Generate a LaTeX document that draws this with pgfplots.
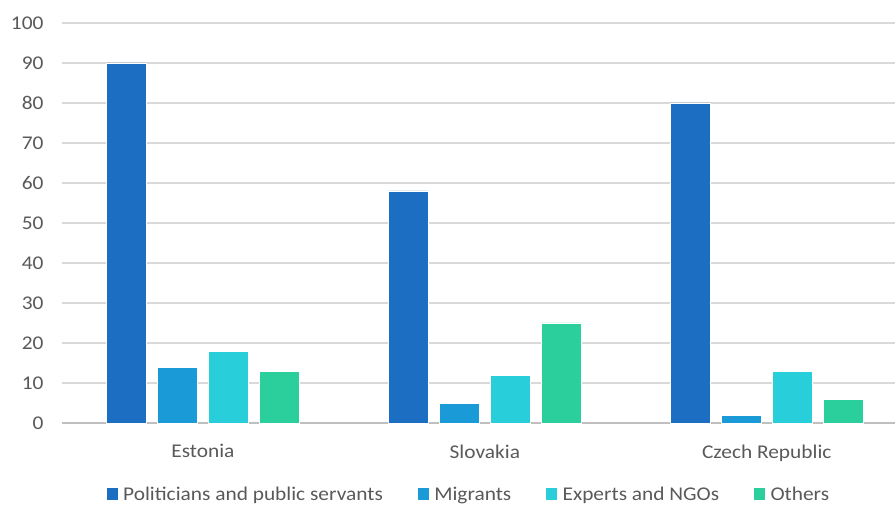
\documentclass[border=0pt]{standalone}
\usepackage{pgfplots}
\pgfplotsset{compat=1.18}
\usepackage{fontspec}
\setmainfont{Carlito}[FakeStretch=1.1]
\definecolor{c1}{RGB}{28,110,194}
\definecolor{c2}{RGB}{26,155,215}
\definecolor{c3}{RGB}{40,207,218}
\definecolor{c4}{RGB}{43,207,156}
\definecolor{txt}{RGB}{89,89,89}
\definecolor{gridc}{RGB}{217,217,217}
\definecolor{zeroc}{RGB}{191,191,191}
\begin{document}
\begin{tikzpicture}
\pgfplotsset{mylegend/.style={legend image code/.code={\fill[##1] (0bp,-6bp) rectangle (12bp,7bp);}}}
\begin{axis}[
  at={(0bp,0bp)}, anchor=south west,
  scale only axis, width=833bp, height=400bp,
  ymin=0, ymax=100, ytick={0,10,...,100},
  xmin=-0.5, xmax=2.455,
  xtick={0,1,2}, xticklabels={Estonia,Slovakia,Czech Republic},
  ybar=11bp, bar width=40bp,
  axis line style={draw=none},
  major tick length=0pt,
  ymajorgrids, grid style={draw=gridc, line width=1.5bp},
  extra y ticks={0}, extra y tick labels={},
  extra y tick style={grid style={draw=zeroc, line width=1.5bp}},
  tick label style={font=\fontsize{19.5}{21}\selectfont, text=txt},
  /pgf/number format/assume math mode=true,
  yticklabel style={xshift=-15bp},
  xticklabel style={yshift=-18bp},
  legend style={at={(0.4874,-0.179)}, anchor=center, draw=none, fill=none,
    legend columns=4, font=\fontsize{19.5}{21}\selectfont, text=txt,
    /tikz/every even column/.append style={column sep=33bp},
    /tikz/every odd column/.append style={column sep=4bp},
    inner sep=0pt, nodes={inner sep=1pt}},
]
\addplot[fill=c1, draw=white, line width=0.3bp, mylegend] coordinates {(0,90) (1,58) (2,80)};
\addplot[fill=c2, draw=white, line width=0.3bp, mylegend] coordinates {(0,14) (1,5) (2,2)};
\addplot[fill=c3, draw=white, line width=0.3bp, mylegend] coordinates {(0,18) (1,12) (2,13)};
\addplot[fill=c4, draw=white, line width=0.3bp, mylegend] coordinates {(0,13) (1,25) (2,6)};
\legend{Politicians and public servants, Migrants, Experts and NGOs, Others}
\end{axis}
\pgfresetboundingbox
\useasboundingbox (-62bp,-83bp) rectangle (833bp,423bp);
\end{tikzpicture}
\end{document}
